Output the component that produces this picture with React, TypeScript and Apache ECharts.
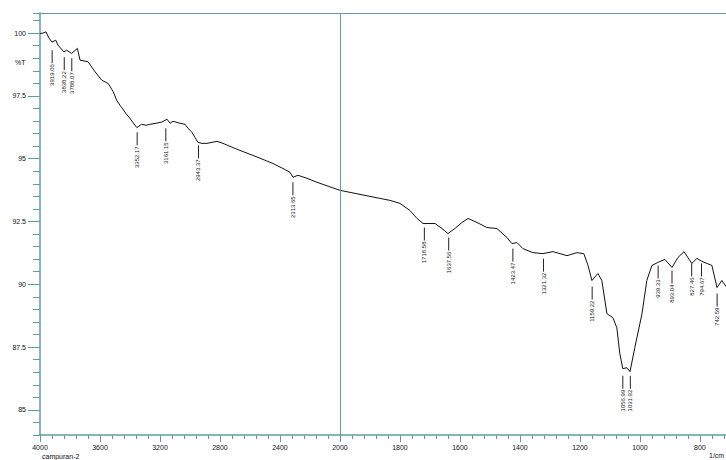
import React, { useEffect, useRef } from "react";
import * as echarts from "echarts";

// Spectrum trace: wavenumber (1/cm) and transmittance (%T)
const wavenumbers = [
  4000, 3980, 3960, 3940, 3920, 3895, 3880, 3840, 3822, 3789, 3751, 3733, 3680, 3633, 3589, 3545, 3511,
  3489, 3467, 3427, 3400, 3355, 3322, 3293, 3267, 3227, 3187, 3153, 3133, 3113, 3067, 3033, 3013, 2987,
  2967, 2947, 2920, 2887, 2820, 2780, 2733, 2667, 2580, 2513, 2447, 2380, 2333, 2313, 2280, 2220, 2153,
  2000, 1867, 1833, 1800, 1767, 1743, 1723, 1683, 1660, 1640, 1617, 1593, 1573, 1543, 1510, 1477, 1443,
  1427, 1410, 1390, 1357, 1323, 1290, 1243, 1210, 1187, 1173, 1160, 1140, 1127, 1110, 1090, 1077, 1067,
  1057, 1043, 1033, 1017, 993, 977, 960, 940, 917, 893, 873, 853, 827, 810, 793, 760, 743, 727, 710,
];
const transmittance = [
  99.98, 100.0, 100.05, 99.8, 99.64, 99.72, 99.52, 99.25, 99.32, 99.19, 99.39, 98.92, 98.86, 98.46, 98.13,
  97.99, 97.66, 97.33, 97.13, 96.8, 96.6, 96.24, 96.37, 96.33, 96.37, 96.41, 96.46, 96.57, 96.41, 96.49,
  96.41, 96.37, 96.21, 96.05, 95.85, 95.65, 95.61, 95.61, 95.69, 95.61, 95.49, 95.33, 95.13, 94.97, 94.81,
  94.61, 94.46, 94.26, 94.34, 94.22, 94.06, 93.74, 93.42, 93.34, 93.22, 92.94, 92.62, 92.42, 92.42, 92.22,
  92.02, 92.22, 92.46, 92.62, 92.46, 92.26, 92.22, 91.86, 91.62, 91.66, 91.42, 91.26, 91.22, 91.3, 91.14,
  91.26, 91.22, 90.75, 90.15, 90.43, 90.15, 88.83, 88.67, 88.27, 87.24, 86.64, 86.68, 86.52, 87.48, 88.83,
  90.15, 90.75, 90.87, 90.99, 90.67, 91.07, 91.3, 90.83, 91.03, 90.91, 90.75, 89.87, 90.15, 89.87,
];

// Peak picks: wavenumber and %T where the marker line starts
const peakWavenumbers = [
  3919.06, 3838.22, 3788.07, 3352.17, 3161.15, 2943.37, 2313.65, 1718.58, 1637.56, 1423.47, 1321.32,
  1159.22, 1056.99, 1031.92, 939.33, 893.04, 827.46, 794.67, 742.59,
];
const peakAnchorT = [
  99.32, 99.04, 99.0, 96.05, 96.21, 95.53, 94.06, 92.26, 91.86, 91.42, 91.02, 89.91, 86.36, 86.36, 90.75,
  90.55, 90.83, 90.83, 89.63,
];

const xTickLabels = [4000, 3600, 3200, 2800, 2400, 2000, 1800, 1600, 1400, 1200, 1000, 800];
const yTickLabels = [85, 87.5, 90, 92.5, 95, 97.5, 100];

const Y_MIN = 84;
const Y_MAX = 100.8;
const AX = "#5f9ea0";
const FONT = "Liberation Sans, Arial, sans-serif";

// Split scale: 4000-2000 compressed by half, below 2000 expanded.
const toU = (wn: number) => (wn >= 2000 ? (4000 - wn) / 2 : 1000 + (2000 - wn));
const fromU = (u: number) => (u <= 1000 ? 4000 - 2 * u : 2000 - (u - 1000));
const U_MAX = toU(713);

export default function App() {
  const ref = useRef<HTMLDivElement>(null);

  useEffect(() => {
    document.body.style.margin = "0";
    if (!ref.current) return;
    const chart = echarts.init(ref.current, undefined, { renderer: "svg" });

    const lineData = wavenumbers.map((w, i) => [toU(w), transmittance[i]]);
    const peakData = peakWavenumbers.map((w, i) => [toU(w), peakAnchorT[i]]);
    const majorU = xTickLabels.map(toU);

    chart.setOption({
      animation: false,
      backgroundColor: "#ffffff",
      grid: { left: 40, right: 0, top: 13, bottom: 25 },
      xAxis: [
        {
          type: "value",
          min: 0,
          max: U_MAX,
          interval: 40,
          position: "bottom",
          axisLine: { show: true, lineStyle: { color: AX, width: 1.5 } },
          axisTick: { show: true, length: 4, lineStyle: { color: AX, width: 1 } },
          axisLabel: { show: false },
          splitLine: { show: false },
        },
        {
          type: "value",
          min: 0,
          max: U_MAX,
          position: "bottom",
          axisLine: { show: false },
          axisTick: { show: true, length: 7, customValues: majorU, lineStyle: { color: AX, width: 1 } },
          axisLabel: {
            show: true,
            customValues: majorU,
            formatter: (v: number) => String(Math.round(fromU(v))),
            fontSize: 7,
            fontFamily: FONT,
            color: "#111",
            margin: 9,
          },
          splitLine: { show: false },
        },
        {
          type: "value",
          min: 0,
          max: U_MAX,
          position: "top",
          axisLine: { show: true, lineStyle: { color: AX, width: 1.2 } },
          axisTick: { show: false },
          axisLabel: { show: false },
          splitLine: { show: false },
        },
      ],
      yAxis: [
        {
          type: "value",
          min: Y_MIN,
          max: Y_MAX,
          interval: 0.5,
          position: "left",
          axisLine: { show: true, lineStyle: { color: AX, width: 1.5 } },
          axisTick: { show: true, length: 7, lineStyle: { color: AX, width: 1 } },
          axisLabel: { show: false },
          splitLine: { show: false },
        },
        {
          type: "value",
          min: Y_MIN,
          max: Y_MAX,
          position: "left",
          axisLine: { show: false },
          axisTick: { show: true, length: 12, customValues: yTickLabels, lineStyle: { color: AX, width: 1 } },
          axisLabel: {
            show: true,
            customValues: yTickLabels,
            formatter: (v: number) => String(v),
            fontSize: 7,
            fontFamily: FONT,
            color: "#111",
            margin: 14,
          },
          splitLine: { show: false },
        },
      ],
      graphic: [
        { type: "text", left: 15, top: 59, style: { text: "%T", fontSize: 7, fontFamily: FONT, fill: "#111" } },
        { type: "text", left: 42, top: 453, style: { text: "campuran-2", fontSize: 7, fontFamily: FONT, fill: "#111" } },
        { type: "text", left: 709, top: 452, style: { text: "1/cm", fontSize: 7, fontFamily: FONT, fill: "#111" } },
      ],
      series: [
        {
          type: "line",
          xAxisIndex: 0,
          yAxisIndex: 0,
          data: lineData,
          showSymbol: false,
          symbol: "none",
          lineStyle: { color: "#111", width: 1 },
          markLine: {
            silent: true,
            symbol: ["none", "none"],
            label: { show: false },
            lineStyle: { color: AX, width: 1, type: "solid" },
            data: [{ xAxis: toU(2000) }],
          },
          z: 3,
        },
        {
          type: "custom",
          xAxisIndex: 0,
          yAxisIndex: 0,
          data: peakData,
          z: 4,
          renderItem: (params: any, api: any) => {
            const p = api.coord([api.value(0), api.value(1)]);
            const label = peakWavenumbers[params.dataIndex].toFixed(2);
            const y0 = p[1];
            const y1 = y0 + 13;
            return {
              type: "group",
              children: [
                {
                  type: "line",
                  shape: { x1: p[0], y1: y0, x2: p[0], y2: y1 },
                  style: { stroke: "#222", lineWidth: 1 },
                },
                {
                  type: "text",
                  x: p[0],
                  y: y1 + 1,
                  rotation: Math.PI / 2,
                  style: {
                    text: label,
                    fontSize: 6,
                    fontFamily: FONT,
                    fill: "#222",
                    align: "right",
                    verticalAlign: "middle",
                  },
                },
              ],
            };
          },
        },
      ],
    });

    return () => chart.dispose();
  }, []);

  return <div ref={ref} style={{ width: 726, height: 460, overflow: "hidden" }} />;
}
